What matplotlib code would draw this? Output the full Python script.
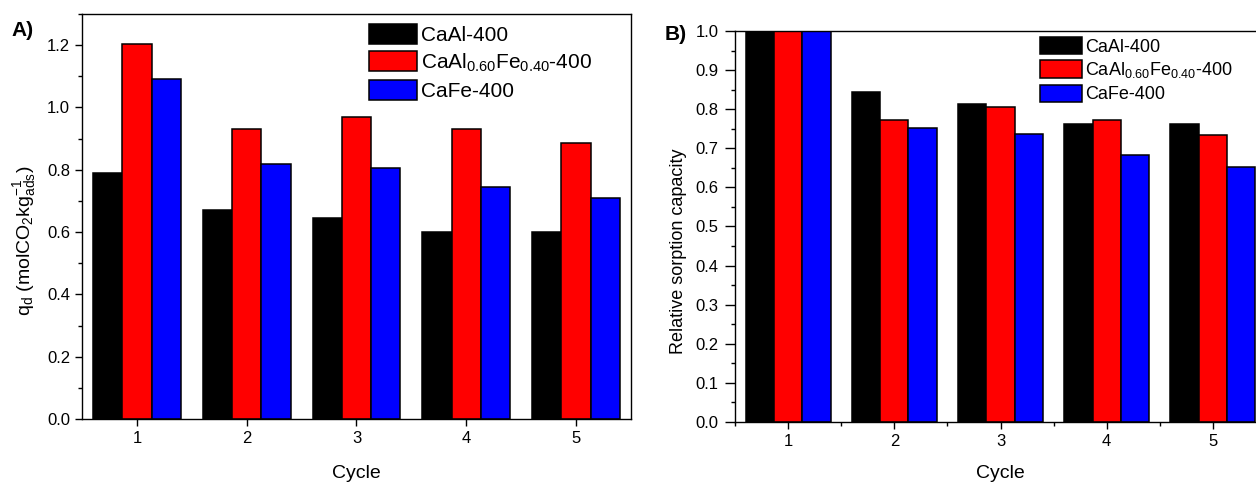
import numpy as np
import matplotlib
matplotlib.use('Agg')
import matplotlib.pyplot as plt
from matplotlib.ticker import MultipleLocator

plt.rcParams['font.family'] = ['Liberation Sans', 'DejaVu Sans']
plt.rcParams['mathtext.default'] = 'regular'

cycles = [1, 2, 3, 4, 5]
labels = ['CaAl-400', r'CaAl$_{0.60}$Fe$_{0.40}$-400', 'CaFe-400']
colors = ['#000000', '#ff0000', '#0000ff']

# A) sorption capacity q_d
qd_caal = [0.79, 0.67, 0.645, 0.60, 0.60]
qd_caalfe = [1.205, 0.93, 0.97, 0.93, 0.885]
qd_cafe = [1.09, 0.82, 0.805, 0.745, 0.71]

# B) relative sorption capacity
rel_caal = [1.0, 0.845, 0.813, 0.762, 0.762]
rel_caalfe = [1.0, 0.773, 0.806, 0.773, 0.734]
rel_cafe = [1.0, 0.752, 0.736, 0.683, 0.651]

fig = plt.figure(figsize=(12.56, 4.82), dpi=100)
axA = fig.add_axes([0.0653, 0.1307, 0.4370, 0.8403])
axB = fig.add_axes([0.5852, 0.1245, 0.4228, 0.8112])

w = 0.8 / 3
x = np.array(cycles)


def bars(ax, series):
    for i, vals in enumerate(series):
        ax.bar(x + (i - 1) * w, vals, w, color=colors[i], edgecolor='black',
               linewidth=1.1, label=labels[i])
    ax.set_xlim(0.5, 5.5)
    ax.set_xticks(cycles)
    ax.tick_params(direction='out', labelsize=12, length=5, width=1)
    ax.tick_params(which='minor', direction='out', length=3, width=1)
    for s in ax.spines.values():
        s.set_linewidth(1.0)


bars(axA, [qd_caal, qd_caalfe, qd_cafe])
axA.set_ylim(0, 1.3)
axA.yaxis.set_minor_locator(MultipleLocator(0.1))
axA.set_yticks([0.0, 0.2, 0.4, 0.6, 0.8, 1.0, 1.2])
axA.set_yticklabels(['0.0', '0.2', '0.4', '0.6', '0.8', '1.0', '1.2'])
axA.set_xlabel('Cycle', fontsize=14, labelpad=14)
axA.set_ylabel(r'q$_d$ (molCO$_2$kg$^{-1}_{ads}$)', fontsize=14)
axA.yaxis.set_label_coords(-0.08, 0.44)
axA.legend(loc='upper left', bbox_to_anchor=(0.523, 0.975), frameon=False,
           fontsize=15, handlelength=2.3, handleheight=1.1, handletextpad=0.2,
           labelspacing=0.3, borderpad=0, borderaxespad=0)
fig.text(0.009, 0.925, 'A)', fontsize=15, fontweight='bold')

bars(axB, [rel_caal, rel_caalfe, rel_cafe])
axB.set_ylim(0, 1.0)
axB.yaxis.set_major_locator(MultipleLocator(0.1))
axB.yaxis.set_minor_locator(MultipleLocator(0.05))
axB.xaxis.set_minor_locator(MultipleLocator(0.5))
axB.tick_params(axis='y', length=7, pad=5)
axB.set_xlabel('Cycle', fontsize=14, labelpad=12)
axB.set_ylabel('Relative sorption capacity', fontsize=13)
axB.yaxis.set_label_coords(-0.09, 0.437)
axB.legend(loc='upper left', bbox_to_anchor=(0.575, 0.985), frameon=False,
           fontsize=13, handlelength=2.3, handleheight=1.1, handletextpad=0.2,
           labelspacing=0.25, borderpad=0, borderaxespad=0)
fig.text(0.529, 0.918, 'B)', fontsize=15, fontweight='bold')

fig.savefig('out.png', dpi=100)
